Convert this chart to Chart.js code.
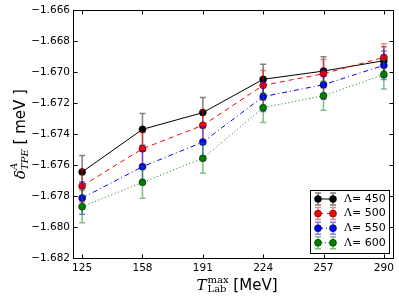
<!DOCTYPE html>
<html>
<head>
<meta charset="utf-8">
<script src="https://cdn.jsdelivr.net/npm/chart.js@4.4.1/dist/chart.umd.min.js"></script>
<style>
html,body{margin:0;padding:0;background:#fff;}
#wrap{width:399px;height:298px;}
</style>
</head>
<body>
<div id="wrap"><canvas id="c" width="399" height="298"></canvas></div>
<script>
const categories = [125, 158, 191, 224, 257, 290];
const xTickLabels = [125, 158, 191, 224, 257, 290];
const yTickValues = [-1.682, -1.680, -1.678, -1.676, -1.674, -1.672, -1.670, -1.668, -1.666];
const seriesNames = ['450', '500', '550', '600'];
const lambda450 = [-1.67645, -1.67370, -1.67262, -1.67047, -1.66994, -1.66927];
const lambda500 = [-1.67735, -1.67495, -1.67344, -1.67086, -1.67011, -1.66906];
const lambda550 = [-1.67813, -1.67611, -1.67452, -1.67159, -1.67082, -1.66957];
const lambda600 = [-1.67869, -1.67712, -1.67557, -1.67230, -1.67153, -1.67017];
const err450 = [0.00107, 0.00103, 0.00098, 0.00097, 0.00092, 0.00090];
const err500 = [0.00106, 0.00103, 0.00098, 0.00096, 0.00092, 0.00088];
const err550 = [0.00105, 0.00102, 0.00097, 0.00096, 0.00093, 0.00092];
const err600 = [0.00104, 0.00103, 0.00097, 0.00095, 0.00094, 0.00093];

const values = [lambda450, lambda500, lambda550, lambda600];
const errors = [err450, err500, err550, err600];
const colors = ['#000000', '#ff0000', '#0000ff', '#008000'];
const errColors = ['rgba(0,0,0,0.5)', 'rgba(255,0,0,0.5)', 'rgba(0,0,255,0.5)', 'rgba(0,128,0,0.5)'];
const dashes = [[], [5, 4], [5, 3, 1, 3], [1, 2.5]];

const datasets = values.map((vals, k) => ({
  label: '\u039b= ' + seriesNames[k],
  data: categories.map((x, i) => ({x: x, y: vals[i]})),
  borderColor: colors[k],
  backgroundColor: colors[k],
  borderWidth: 1,
  borderDash: dashes[k],
  pointRadius: 3.5,
  pointHoverRadius: 3.5,
  pointBackgroundColor: colors[k],
  pointBorderColor: '#000',
  pointBorderWidth: 0.5,
  tension: 0,
  fill: false,
  order: 4 - k
}));

function drawErr(ctx, x, yTop, yBot, color) {
  ctx.save();
  ctx.strokeStyle = color;
  ctx.lineWidth = 1.5;
  ctx.setLineDash([]);
  ctx.beginPath();
  ctx.moveTo(x, yTop); ctx.lineTo(x, yBot);
  ctx.moveTo(x - 3, yTop); ctx.lineTo(x + 3, yTop);
  ctx.moveTo(x - 3, yBot); ctx.lineTo(x + 3, yBot);
  ctx.stroke();
  ctx.restore();
}

const plugin = {
  id: 'custom',
  beforeDatasetDraw(chart, args) {
    const k = args.index;
    const xs = chart.scales.x, ys = chart.scales.y;
    const ctx = chart.ctx;
    categories.forEach((cx, i) => {
      const px = xs.getPixelForValue(cx);
      const t = ys.getPixelForValue(values[k][i] + errors[k][i]);
      const b = ys.getPixelForValue(values[k][i] - errors[k][i]);
      drawErr(ctx, px, t, b, errColors[k]);
    });
  },
  afterDraw(chart) {
    const ctx = chart.ctx;
    const a = chart.chartArea;
    const xs = chart.scales.x, ys = chart.scales.y;
    ctx.save();
    // frame
    ctx.strokeStyle = '#000';
    ctx.lineWidth = 1;
    ctx.setLineDash([]);
    const L = Math.round(a.left) + 0.5, R = Math.round(a.right) + 0.5;
    const T = Math.round(a.top) + 0.5, B = Math.round(a.bottom) + 0.5;
    ctx.strokeRect(L, T, R - L, B - T);
    // inward ticks
    ctx.beginPath();
    yTickValues.forEach(v => {
      const py = Math.round(ys.getPixelForValue(v)) + 0.5;
      ctx.moveTo(L, py); ctx.lineTo(L + 4, py);
      ctx.moveTo(R, py); ctx.lineTo(R - 4, py);
    });
    xTickLabels.forEach(v => {
      const px = Math.round(xs.getPixelForValue(v)) + 0.5;
      ctx.moveTo(px, B); ctx.lineTo(px, B - 4);
      ctx.moveTo(px, T); ctx.lineTo(px, T + 4);
    });
    ctx.stroke();

    // legend
    const lw = 79, lh = 63;
    const lx = Math.round(a.right - 4 - lw) + 0.5;
    const ly = Math.round(a.bottom - 5 - lh) + 0.5;
    ctx.fillStyle = '#fff';
    ctx.fillRect(lx, ly, lw, lh);
    ctx.strokeStyle = '#000';
    ctx.lineWidth = 1;
    ctx.strokeRect(lx, ly, lw, lh);
    for (let k = 0; k < 4; k++) {
      const cy = ly + 8.5 + k * 14.6;
      const m1 = lx + 7.5, m2 = lx + 22.5;
      drawErr(ctx, m1, cy - 6, cy + 6, errColors[k]);
      drawErr(ctx, m2, cy - 6, cy + 6, errColors[k]);
      ctx.save();
      ctx.strokeStyle = colors[k];
      ctx.lineWidth = 1;
      ctx.setLineDash(dashes[k]);
      ctx.beginPath(); ctx.moveTo(m1, cy); ctx.lineTo(m2, cy); ctx.stroke();
      ctx.restore();
      [m1, m2].forEach(mx => {
        ctx.beginPath();
        ctx.arc(mx, cy, 3.5, 0, Math.PI * 2);
        ctx.fillStyle = colors[k];
        ctx.fill();
        ctx.lineWidth = 0.5;
        ctx.strokeStyle = '#000';
        ctx.stroke();
      });
      ctx.fillStyle = '#000';
      ctx.textBaseline = 'middle';
      ctx.textAlign = 'left';
      ctx.font = '11px "DejaVu Serif"';
      const tx = lx + 33.5;
      ctx.fillText('\u039b', tx, cy);
      const w = ctx.measureText('\u039b').width;
      ctx.font = '11px "DejaVu Sans"';
      ctx.fillText('= ' + seriesNames[k], tx + w, cy);
    }

    // x axis title
    ctx.fillStyle = '#000';
    ctx.textBaseline = 'alphabetic';
    ctx.textAlign = 'left';
    const fT = 'italic 15px "DejaVu Serif"';
    const fS = '10px "DejaVu Serif"';
    const fU = '15px "DejaVu Sans"';
    ctx.font = fT; const wT = ctx.measureText('T').width;
    ctx.font = fS; const wS = Math.max(ctx.measureText('max').width, ctx.measureText('Lab').width);
    ctx.font = fU; const wU = ctx.measureText(' [MeV]').width;
    const totX = wT + 1 + wS + wU;
    let sx = (a.left + a.right) / 2 + 4 - totX / 2;
    const by = 290;
    ctx.font = fT; ctx.fillText('T', sx, by); sx += wT + 1;
    ctx.font = fS; ctx.fillText('max', sx, by - 7); ctx.fillText('Lab', sx, by + 2); sx += wS;
    ctx.font = fU; ctx.fillText(' [MeV]', sx, by);

    // y axis title
    ctx.save();
    ctx.translate(25, (a.top + a.bottom) / 2);
    ctx.rotate(-Math.PI / 2);
    const fD = 'italic 15px "DejaVu Serif"';
    const fI = 'italic 10px "DejaVu Serif"';
    ctx.font = fD; const wD = ctx.measureText('\u03b4').width;
    ctx.font = fI; const wI = Math.max(ctx.measureText('A').width, ctx.measureText('TPE').width);
    ctx.font = fU; const wM = ctx.measureText(' [ meV ]').width;
    const totY = wD + wI + wM;
    let sy = -totY / 2;
    ctx.font = fD; ctx.fillText('\u03b4', sy, 0); sy += wD;
    ctx.font = fI; ctx.fillText('A', sy, -8); ctx.fillText('TPE', sy, 3); sy += wI;
    ctx.font = fU; ctx.fillText(' [ meV ]', sy, 0);
    ctx.restore();

    ctx.restore();
  }
};

new Chart(document.getElementById('c'), {
  type: 'line',
  data: {datasets: datasets},
  options: {
    responsive: false,
    animation: false,
    devicePixelRatio: 1,
    layout: {padding: {left: 0, right: 6, top: 10, bottom: 0}},
    plugins: {legend: {display: false}, tooltip: {enabled: false}},
    scales: {
      x: {
        type: 'linear',
        min: 120,
        max: 295,
        afterBuildTicks: s => { s.ticks = xTickLabels.map(v => ({value: v})); },
        afterFit: s => { s.height = 40; },
        grid: {display: false, drawTicks: false},
        border: {display: false},
        ticks: {
          color: '#000',
          padding: 4,
          maxRotation: 0,
          autoSkip: false,
          font: {family: 'DejaVu Sans', size: 10.5},
          callback: v => String(v)
        }
      },
      y: {
        type: 'linear',
        min: -1.682,
        max: -1.666,
        afterBuildTicks: s => { s.ticks = yTickValues.map(v => ({value: v})); },
        afterFit: s => { s.width = 73; },
        grid: {display: false, drawTicks: false},
        border: {display: false},
        ticks: {
          color: '#000',
          padding: 3,
          autoSkip: false,
          font: {family: 'DejaVu Sans', size: 10.5},
          callback: v => Number(v).toFixed(3).replace('-', '\u2212')
        }
      }
    }
  },
  plugins: [plugin]
});
</script>
</body>
</html>
